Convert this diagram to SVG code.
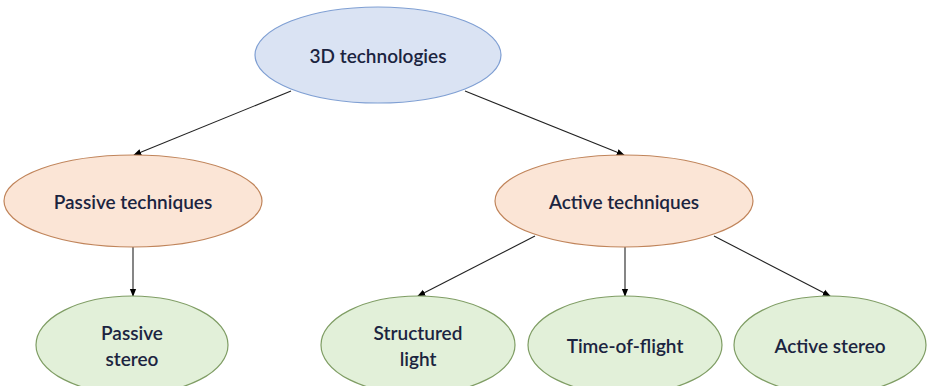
<svg xmlns="http://www.w3.org/2000/svg" width="928" height="386" viewBox="0 0 928 386">
<defs>
<marker id="ah" viewBox="0 0 10 10" refX="9" refY="5" markerWidth="8" markerHeight="8" markerUnits="userSpaceOnUse" orient="auto">
<path d="M0,1 L10,5 L0,9 z" fill="#000"/>
</marker>
<style>
.t{font-family:Lato,"Open Sans","Liberation Sans",sans-serif;font-size:19px;font-weight:600;fill:#1b2440;text-anchor:middle;dominant-baseline:central}
.blue{fill:#dae3f3;stroke:#7f9fd3;stroke-width:1.2}
.orange{fill:#fbe5d6;stroke:#c0845a;stroke-width:1.2}
.green{fill:#e2f0d9;stroke:#7f9d64;stroke-width:1.2}
.c{stroke:#222;stroke-width:1.1;fill:none;marker-end:url(#ah)}
</style>
</defs>
<rect width="928" height="386" fill="#fff"/>
<g id="connectors">
<line class="c" x1="291" y1="91" x2="134" y2="155"/>
<line class="c" x1="465" y1="91" x2="624" y2="155"/>
<line class="c" x1="133" y1="247" x2="133" y2="296"/>
<line class="c" x1="535" y1="236" x2="418" y2="296"/>
<line class="c" x1="625" y1="247" x2="625" y2="296"/>
<line class="c" x1="714" y1="236" x2="830" y2="296"/>
</g>
<g id="n3d"><ellipse class="blue" cx="378" cy="55" rx="123" ry="48"/><text class="t" x="378" y="55">3D technologies</text></g>
<g id="npassive"><ellipse class="orange" cx="133" cy="201" rx="129" ry="46"/><text class="t" x="133" y="201">Passive techniques</text></g>
<g id="nactive"><ellipse class="orange" cx="624" cy="201" rx="129" ry="46"/><text class="t" x="624" y="201">Active techniques</text></g>
<g id="npstereo"><ellipse class="green" cx="132" cy="345" rx="96" ry="49"/><text class="t" x="132" y="332">Passive</text><text class="t" x="132" y="358">stereo</text></g>
<g id="nstructured"><ellipse class="green" cx="418" cy="345" rx="97" ry="49"/><text class="t" x="418" y="332">Structured</text><text class="t" x="418" y="358">light</text></g>
<g id="ntof"><ellipse class="green" cx="625" cy="345" rx="97" ry="49"/><text class="t" x="625" y="345">Time-of-flight</text></g>
<g id="nastereo"><ellipse class="green" cx="830" cy="345" rx="96" ry="49"/><text class="t" x="830" y="345">Active stereo</text></g>
</svg>
